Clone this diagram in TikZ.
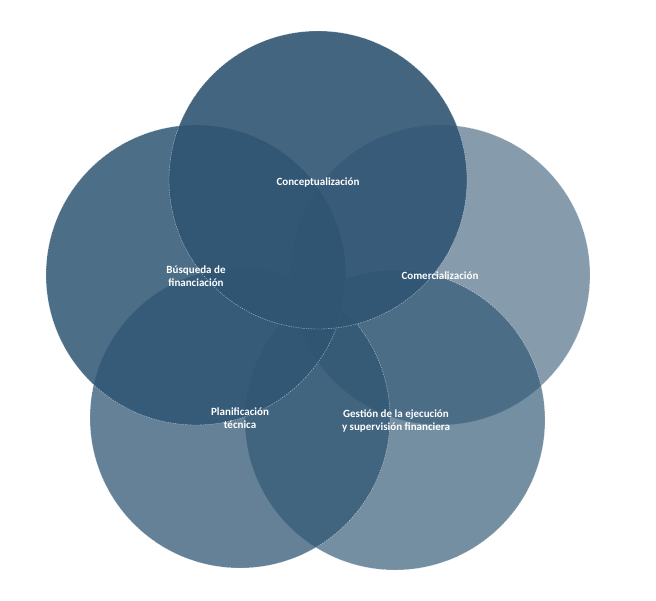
\documentclass[tikz,border=0pt]{standalone}
\usepackage{fontspec}
\setmainfont{Carlito}
\begin{document}
\begin{tikzpicture}[x=1pt,y=-1pt,
  circ/.style={fill=base,draw=white,draw opacity=0.6,dashed,dash pattern=on 1.5pt off 1pt,line width=0.4pt},
  lbl/.style={text=white,font=\bfseries\fontsize{11}{13}\selectfont,align=center}]
\definecolor{base}{HTML}{2F5573}
\useasboundingbox (0,0) rectangle (656,600);
\fill[white] (0,0) rectangle (656,600);
\path[circ,fill opacity=0.58] (440,275) circle (150);
\path[circ,fill opacity=0.66] (395,420) circle (150);
\path[circ,fill opacity=0.74] (240,418) circle (150);
\path[circ,fill opacity=0.85] (196,275) circle (150);
\path[circ,fill opacity=0.9] (318,180) circle (149);
\node[lbl] (c) at (318,183) {Conceptualización};
\node[lbl] (b) at (196,276) {Búsqueda de\\financiación};
\node[lbl] (m) at (440,276) {Comercialización};
\node[lbl] (p) at (240,418) {Planificación\\técnica};
\node[lbl] (g) at (396,421) {Gestión de la ejecución\\y supervisión financiera};
\end{tikzpicture}
\end{document}
